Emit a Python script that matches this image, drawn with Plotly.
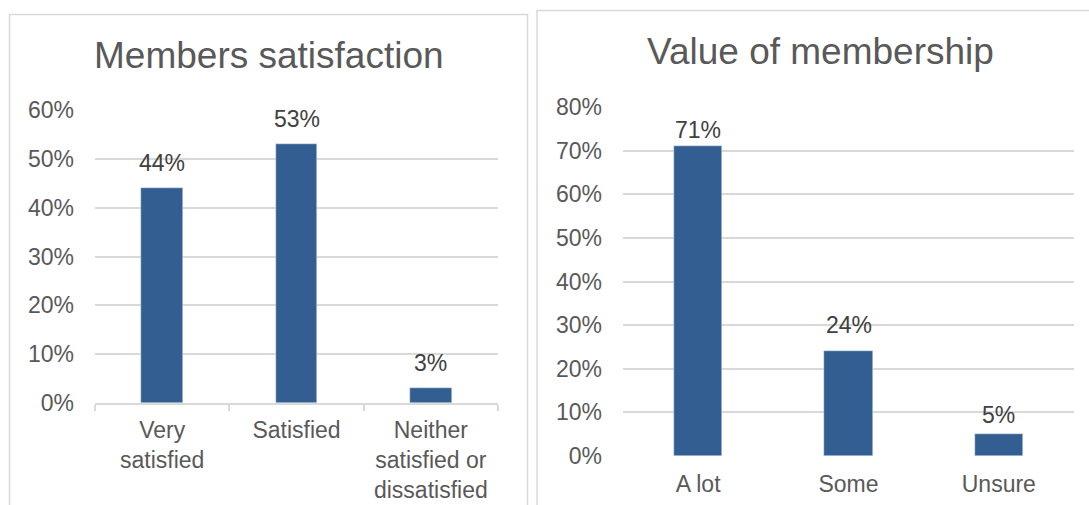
import plotly.graph_objects as go

# Survey results, shares of respondents
satisfaction_labels = ["Very<br>satisfied", "Satisfied", "Neither<br>satisfied or<br>dissatisfied"]
satisfaction_values = [0.44, 0.53, 0.03]

value_labels = ["A lot", "Some", "Unsure"]
value_values = [0.71, 0.24, 0.05]

left_ticks = [0, 0.1, 0.2, 0.3, 0.4, 0.5, 0.6]
right_ticks = [0, 0.1, 0.2, 0.3, 0.4, 0.5, 0.6, 0.7, 0.8]

W, H = 1089, 505
BAR = "#335E91"
GRID = "#D9D9D9"
AXIS_TXT = "#595959"
LABEL_TXT = "#404040"
FONT = "Liberation Sans, Arial, sans-serif"

# vertical nudges (px) of the value labels above their bars
LEFT_LABEL_SHIFT = 10.5
RIGHT_LABEL_SHIFT = {"A lot": 1, "Some": 11, "Unsure": 4}


def px_x(p):
    return p / W


def px_y(p):
    return 1 - p / H


fig = go.Figure()

fig.add_trace(go.Bar(
    x=satisfaction_labels, y=satisfaction_values, marker_color=BAR,
    width=0.31, xaxis="x", yaxis="y", showlegend=False, hoverinfo="skip",
))
fig.add_trace(go.Bar(
    x=value_labels, y=value_values, marker_color=BAR,
    width=0.32, xaxis="x2", yaxis="y2", showlegend=False, hoverinfo="skip",
))

label_font = dict(size=23, color=LABEL_TXT, family=FONT)
annotations = []
for cat, v in zip(satisfaction_labels, satisfaction_values):
    annotations.append(dict(x=cat, y=v, xref="x", yref="y", text=f"{round(v*100)}%",
                            showarrow=False, yanchor="bottom", yshift=LEFT_LABEL_SHIFT,
                            font=label_font))
for cat, v in zip(value_labels, value_values):
    annotations.append(dict(x=cat, y=v, xref="x2", yref="y2", text=f"{round(v*100)}%",
                            showarrow=False, yanchor="bottom", yshift=RIGHT_LABEL_SHIFT[cat],
                            font=label_font))

# Chart titles
annotations.append(dict(x=px_x(268.5), y=px_y(56), xref="paper", yref="paper",
                        text="Members satisfaction", showarrow=False,
                        xanchor="center", yanchor="middle",
                        font=dict(size=37, color=AXIS_TXT, family=FONT)))
annotations.append(dict(x=px_x(820), y=px_y(52), xref="paper", yref="paper",
                        text="Value of membership", showarrow=False,
                        xanchor="center", yanchor="middle",
                        font=dict(size=37, color=AXIS_TXT, family=FONT)))

# Chart area frames
shapes = [
    dict(type="rect", xref="paper", yref="paper",
         x0=px_x(9.5), x1=px_x(527.5), y0=px_y(520), y1=px_y(14.5),
         line=dict(color=GRID, width=1.5), fillcolor="rgba(0,0,0,0)", layer="below"),
    dict(type="rect", xref="paper", yref="paper",
         x0=px_x(537), x1=px_x(1100), y0=px_y(520), y1=px_y(10.5),
         line=dict(color=GRID, width=1.5), fillcolor="rgba(0,0,0,0)", layer="below"),
]

tick_font = dict(size=23, color=AXIS_TXT, family=FONT)

fig.update_layout(
    width=W, height=H, autosize=False,
    margin=dict(l=0, r=0, t=0, b=0, pad=0, autoexpand=False),
    paper_bgcolor="white", plot_bgcolor="white",
    bargap=0,
    annotations=annotations,
    shapes=shapes,
    xaxis=dict(domain=[px_x(95), px_x(498)], anchor="y", automargin=False,
               showline=True, linecolor=GRID, linewidth=1.5,
               ticks="outside", tickson="boundaries", ticklen=6, tickcolor=GRID, tickwidth=1.5,
               ticklabelstandoff=6,
               tickfont=tick_font, showgrid=False, fixedrange=True),
    yaxis=dict(domain=[px_y(403), px_y(110)], anchor="x", range=[0, 0.6], automargin=False,
               tickvals=left_ticks, tickformat=".0%", tickfont=tick_font,
               showgrid=True, gridcolor=GRID, gridwidth=1.5, zeroline=False,
               showline=False, ticks="", ticklabelstandoff=20, fixedrange=True),
    xaxis2=dict(domain=[px_x(623), px_x(1074)], anchor="y2", automargin=False,
                showline=False, ticks="", ticklabelstandoff=12,
                tickfont=tick_font, showgrid=False, fixedrange=True),
    yaxis2=dict(domain=[px_y(456), px_y(107)], anchor="x2", range=[0, 0.8], automargin=False,
                tickvals=right_ticks, tickformat=".0%", tickfont=tick_font,
                showgrid=True, gridcolor=GRID, gridwidth=1.5, zeroline=False,
                showline=False, ticks="", ticklabelstandoff=20, fixedrange=True),
)

fig.write_html("out.html", config={"displayModeBar": False})
